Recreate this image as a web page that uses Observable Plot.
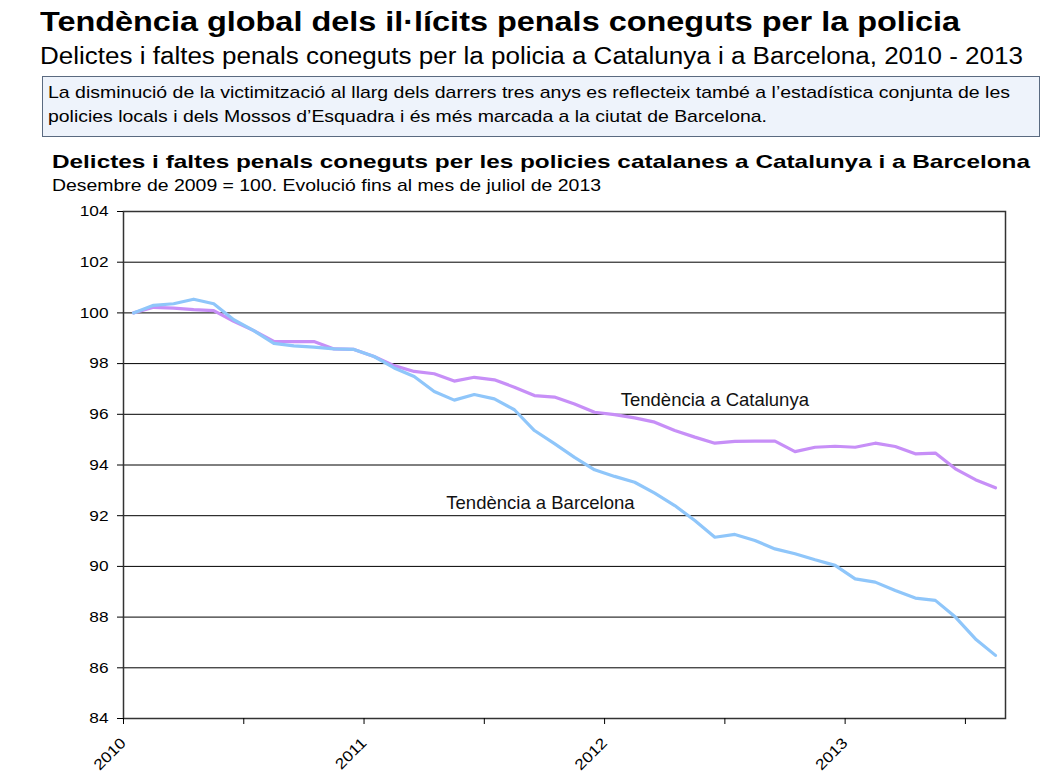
<!DOCTYPE html>
<html>
<head>
<meta charset="utf-8">
<script src="https://cdn.jsdelivr.net/npm/d3@7"></script>
<script src="https://cdn.jsdelivr.net/npm/@observablehq/plot@0.6"></script>
<style>
  body { margin:0; width:1047px; height:780px; background:#fff; position:relative; overflow:hidden;
         font-family:"Liberation Sans", Arial, sans-serif; color:#000; }
  .t { position:absolute; white-space:nowrap; line-height:1; transform-origin:0 0; }
  #h1 { left:40px; top:8px; font-size:28px; font-weight:bold; }
  #h2 { left:40px; top:45px; font-size:23px; }
  #box { position:absolute; left:42px; top:76px; width:996px; height:59px; background:#eef3fb;
         border:1px solid #5a6a80; }
  #b1 { left:48px; top:84px; font-size:17px; }
  #b2 { left:48px; top:108px; font-size:17px; }
  #c1 { left:52px; top:152px; font-size:19px; font-weight:bold; }
  #c2 { left:52px; top:177px; font-size:17px; }
  #chart { position:absolute; left:0; top:195px; }
</style>
</head>
<body>
<div class="t" id="h1" data-w="920">Tendència global dels il·lícits penals coneguts per la policia</div>
<div class="t" id="h2" data-w="983">Delictes i faltes penals coneguts per la policia a Catalunya i a Barcelona, 2010 - 2013</div>
<div id="box"></div>
<div class="t" id="b1" data-w="962">La disminució de la victimització al llarg dels darrers tres anys es reflecteix també a l’estadística conjunta de les</div>
<div class="t" id="b2" data-w="719">policies locals i dels Mossos d’Esquadra i és més marcada a la ciutat de Barcelona.</div>
<div class="t" id="c1" data-w="978">Delictes i faltes penals coneguts per les policies catalanes a Catalunya i a Barcelona</div>
<div class="t" id="c2" data-w="549">Desembre de 2009 = 100. Evolució fins al mes de juliol de 2013</div>
<div id="chart"></div>
<script>
// Months: December 2009 (=100) through July 2013
const months = [
  "2009-12",
  "2010-01","2010-02","2010-03","2010-04","2010-05","2010-06","2010-07","2010-08","2010-09","2010-10","2010-11","2010-12",
  "2011-01","2011-02","2011-03","2011-04","2011-05","2011-06","2011-07","2011-08","2011-09","2011-10","2011-11","2011-12",
  "2012-01","2012-02","2012-03","2012-04","2012-05","2012-06","2012-07","2012-08","2012-09","2012-10","2012-11","2012-12",
  "2013-01","2013-02","2013-03","2013-04","2013-05","2013-06","2013-07"
];
const catalunya = [100, 100.22, 100.19, 100.13, 100.09, 99.67, 99.3, 98.88, 98.87, 98.87, 98.58, 98.56, 98.28,
  97.92, 97.69, 97.6, 97.31, 97.46, 97.36, 97.07, 96.74, 96.68, 96.41, 96.08, 95.99,
  95.86, 95.69, 95.36, 95.1, 94.86, 94.93, 94.94, 94.94, 94.53, 94.7, 94.74, 94.7,
  94.86, 94.73, 94.44, 94.47, 93.85, 93.42, 93.1];
const barcelona = [100, 100.3, 100.36, 100.54, 100.36, 99.73, 99.3, 98.8, 98.7, 98.65, 98.58, 98.56, 98.28,
  97.83, 97.49, 96.9, 96.56, 96.78, 96.61, 96.18, 95.36, 94.84, 94.3, 93.81, 93.55,
  93.32, 92.89, 92.4, 91.81, 91.15, 91.26, 91.02, 90.69, 90.5, 90.26, 90.04, 89.51,
  89.38, 89.05, 88.75, 88.66, 88.0, 87.14, 86.49];
const seriesNames = ["Tendència a Catalunya", "Tendència a Barcelona"];
const seriesColors = ["#c78ff7", "#8fc6fa"];
const yTicks = [84, 86, 88, 90, 92, 94, 96, 98, 100, 102, 104];
const yearLabels = ["2010", "2011", "2012", "2013"];
// annotation anchors (month index, index value)
const labelIdx = [29.0, 20.3];
const labelVal = [96.58, 92.48];

const rows = [];
months.forEach((m, i) => {
  rows.push({i, month: m, series: seriesNames[0], value: catalunya[i]});
  rows.push({i, month: m, series: seriesNames[1], value: barcelona[i]});
});
const labels = seriesNames.map((s, k) => ({s, i: labelIdx[k], v: labelVal[k]}));

// x ticks at every half-year boundary; year labels at January boundaries
const xTicks = d3.range(-0.5, months.length, 6);
const xFmt = (t) => {
  const k = Math.round((t + 0.5) / 12);
  return Math.abs((t + 0.5) - k * 12) < 1e-6 ? yearLabels[k] ?? "" : "";
};

const plot = Plot.plot({
  width: 1047,
  height: 585,
  marginLeft: 123,
  marginRight: 42,
  marginTop: 16,
  marginBottom: 62,
  style: {fontFamily: '"Liberation Sans", Arial, sans-serif', fontSize: "15px", color: "#000", background: "transparent"},
  x: {domain: [-0.5, months.length - 0.5], ticks: xTicks, tickFormat: xFmt},
  y: {domain: [84, 104], ticks: yTicks},
  color: {domain: seriesNames, range: seriesColors},
  marks: [
    Plot.ruleY(yTicks.filter(d => d > 84 && d < 104), {stroke: "#000", strokeWidth: 1}),
    Plot.frame({stroke: "#333", strokeWidth: 1.5}),
    Plot.axisY({ticks: yTicks, tickSize: 6, tickPadding: 9, label: null, fontSize: 15}),
    Plot.axisX({ticks: xTicks, tickFormat: xFmt, tickSize: 6, tickPadding: 16, tickRotate: -45, label: null, fontSize: 15}),
    Plot.line(rows, {x: "i", y: "value", z: "series", stroke: "series", strokeWidth: 3.2, strokeLinejoin: "round"}),
    Plot.text(labels, {x: "i", y: "v", text: "s", fontSize: 18.5, fill: "#111"})
  ]
});
document.getElementById("chart").appendChild(plot);

// widen axis tick labels slightly to match the reference's wider lettering
plot.querySelectorAll('g[aria-label="y-axis tick label"] text, g[aria-label="x-axis tick label"] text').forEach(t => {
  const L = t.getComputedTextLength();
  if (L > 0) { t.setAttribute("textLength", (L * 1.15).toFixed(1)); t.setAttribute("lengthAdjust", "spacingAndGlyphs"); }
});

// fit header lines to the reference widths
document.querySelectorAll(".t").forEach(el => {
  const w = +el.dataset.w;
  const r = el.getBoundingClientRect().width;
  if (w && r) el.style.transform = `scaleX(${(w / r).toFixed(4)})`;
});
</script>
</body>
</html>
